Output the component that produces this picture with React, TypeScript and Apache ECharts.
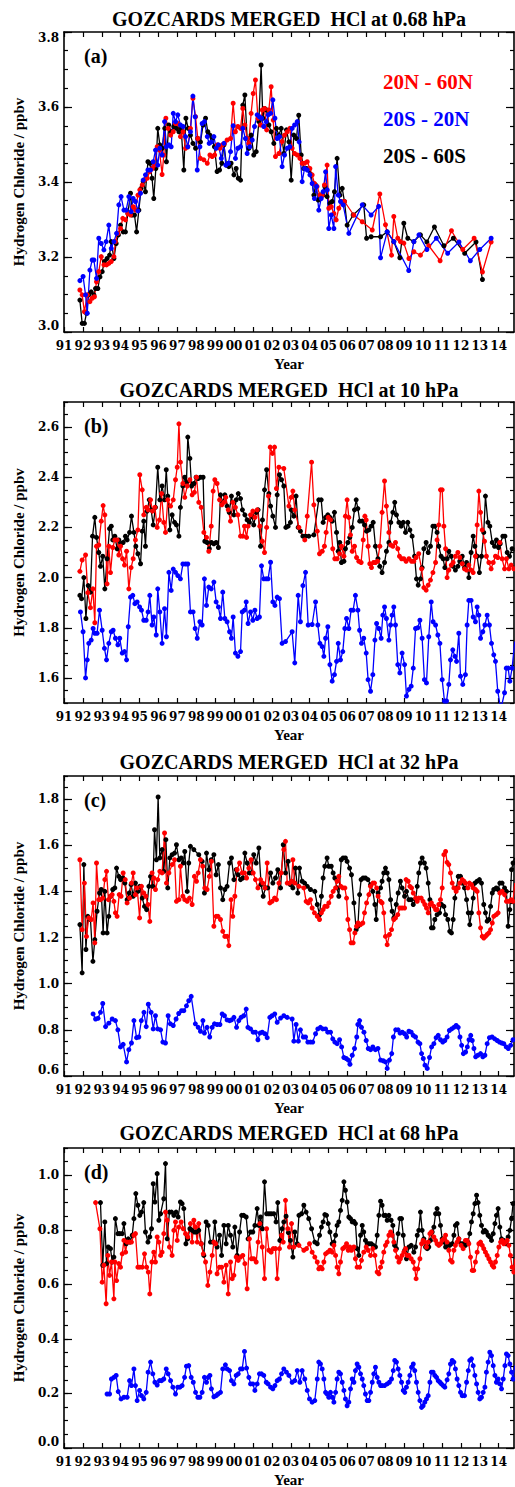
import React, { useEffect, useRef } from "react";
import * as echarts from "echarts";

type P = [number, number];

// ---------------- text / categories ----------------
const yearTicks = [1991, 1992, 1993, 1994, 1995, 1996, 1997, 1998, 1999, 2000, 2001, 2002, 2003, 2004, 2005, 2006, 2007, 2008, 2009, 2010, 2011, 2012, 2013, 2014];
const yearLabels = ["91", "92", "93", "94", "95", "96", "97", "98", "99", "00", "01", "02", "03", "04", "05", "06", "07", "08", "09", "10", "11", "12", "13", "14"];
const titles = [
  "GOZCARDS MERGED  HCl at 0.68 hPa",
  "GOZCARDS MERGED  HCl at 10 hPa",
  "GOZCARDS MERGED  HCl at 32 hPa",
  "GOZCARDS MERGED  HCl at 68 hPa",
];
const panelTags = ["(a)", "(b)", "(c)", "(d)"];
const seriesNames = ["20N - 60N", "20S - 20N", "20S - 60S"];
const yAxisTitle = "Hydrogen Chloride / ppbv";
const xAxisTitle = "Year";
const yMin = [3.0, 1.5, 0.6, 0.0];
const yMax = [3.8, 2.7, 1.9, 1.1];
const yLabelVals = [
  [3.0, 3.2, 3.4, 3.6, 3.8],
  [1.6, 1.8, 2.0, 2.2, 2.4, 2.6],
  [0.6, 0.8, 1.0, 1.2, 1.4, 1.6, 1.8],
  [0.0, 0.2, 0.4, 0.6, 0.8, 1.0],
];
const X_MIN = 1991;
const X_MAX = 2014.81;

// ---------------- data: panel (a) 0.68 hPa ----------------
const a20N60N: P[] = [[1991.84,3.112],[1991.96,3.099],[1992.08,3.054],[1992.23,3.099],[1992.37,3.081],[1992.49,3.090],[1992.61,3.094],[1992.72,3.134],[1992.84,3.161],[1992.97,3.201],[1993.11,3.179],[1993.25,3.179],[1993.37,3.183],[1993.50,3.188],[1993.64,3.201],[1993.72,3.241],[1993.85,3.263],[1993.99,3.276],[1994.11,3.303],[1994.25,3.299],[1994.38,3.316],[1994.52,3.312],[1994.66,3.334],[1994.78,3.325],[1994.91,3.365],[1995.01,3.379],[1995.14,3.392],[1995.26,3.405],[1995.40,3.410],[1995.54,3.428],[1995.67,3.436],[1995.79,3.445],[1995.93,3.494],[1996.05,3.485],[1996.19,3.420],[1996.28,3.472],[1996.39,3.570],[1996.51,3.543],[1996.64,3.525],[1996.78,3.534],[1996.90,3.556],[1997.02,3.556],[1997.16,3.521],[1997.30,3.534],[1997.43,3.490],[1997.55,3.494],[1997.69,3.543],[1997.82,3.623],[1997.96,3.574],[1998.08,3.516],[1998.22,3.463],[1998.40,3.459],[1998.58,3.450],[1998.72,3.472],[1998.84,3.468],[1998.97,3.472],[1999.11,3.499],[1999.25,3.490],[1999.37,3.499],[1999.49,3.503],[1999.63,3.512],[1999.81,3.516],[1999.95,3.610],[2000.07,3.534],[2000.20,3.548],[2000.34,3.543],[2000.46,3.596],[2000.57,3.552],[2000.69,3.516],[2000.78,3.503],[2000.90,3.583],[2001.01,3.636],[2001.13,3.672],[2001.26,3.570],[2001.40,3.552],[2001.49,3.592],[2001.61,3.596],[2001.72,3.539],[2001.84,3.592],[2001.96,3.654],[2002.07,3.565],[2002.19,3.468],[2002.37,3.476],[2002.54,3.508],[2002.67,3.525],[2002.81,3.534],[2002.95,3.543],[2003.07,3.490],[2003.20,3.476],[2003.34,3.472],[2003.48,3.463],[2003.60,3.450],[2003.73,3.450],[2003.87,3.454],[2004.01,3.436],[2004.13,3.419],[2004.25,3.396],[2004.39,3.388],[2004.54,3.365],[2004.66,3.365],[2004.78,3.392],[2004.92,3.445],[2005.01,3.330],[2005.14,3.334],[2005.28,3.316],[2005.40,3.299],[2005.54,3.330],[2005.68,3.348],[2005.84,3.348],[2006.33,3.312],[2006.78,3.294],[2007.31,3.272],[2007.71,3.368],[2008.01,3.286],[2008.33,3.205],[2008.45,3.308],[2008.66,3.250],[2008.80,3.241],[2008.98,3.237],[2009.25,3.196],[2009.51,3.214],[2009.86,3.205],[2010.30,3.230],[2010.90,3.190],[2011.50,3.270],[2012.10,3.220],[2012.70,3.250],[2013.14,3.160],[2013.60,3.240]];
const a20S20N: P[] = [[1991.84,3.137],[1992.01,3.148],[1992.14,3.099],[1992.23,3.050],[1992.37,3.165],[1992.49,3.192],[1992.58,3.192],[1992.72,3.143],[1992.84,3.250],[1992.97,3.236],[1993.11,3.219],[1993.23,3.241],[1993.37,3.285],[1993.50,3.223],[1993.64,3.241],[1993.78,3.263],[1993.90,3.339],[1994.02,3.361],[1994.17,3.325],[1994.29,3.325],[1994.43,3.361],[1994.55,3.321],[1994.66,3.356],[1994.78,3.348],[1994.91,3.323],[1995.05,3.370],[1995.19,3.405],[1995.31,3.419],[1995.44,3.432],[1995.58,3.432],[1995.72,3.454],[1995.84,3.485],[1995.96,3.445],[1996.07,3.490],[1996.19,3.472],[1996.32,3.561],[1996.42,3.494],[1996.55,3.499],[1996.67,3.494],[1996.78,3.583],[1996.90,3.561],[1997.02,3.579],[1997.16,3.552],[1997.30,3.548],[1997.43,3.521],[1997.55,3.494],[1997.69,3.534],[1997.82,3.629],[1997.94,3.574],[1998.05,3.432],[1998.19,3.494],[1998.31,3.556],[1998.43,3.561],[1998.58,3.521],[1998.68,3.503],[1998.80,3.507],[1998.93,3.521],[1999.05,3.490],[1999.17,3.499],[1999.32,3.463],[1999.46,3.503],[1999.56,3.445],[1999.70,3.450],[1999.81,3.481],[1999.95,3.550],[2000.07,3.463],[2000.20,3.490],[2000.34,3.494],[2000.46,3.543],[2000.60,3.516],[2000.69,3.476],[2000.83,3.494],[2000.96,3.512],[2001.08,3.548],[2001.22,3.579],[2001.34,3.574],[2001.45,3.570],[2001.57,3.548],[2001.70,3.561],[2001.80,3.579],[2001.93,3.583],[2002.05,3.619],[2002.16,3.570],[2002.28,3.516],[2002.40,3.521],[2002.54,3.441],[2002.67,3.472],[2002.81,3.490],[2002.95,3.494],[2003.07,3.543],[2003.20,3.552],[2003.34,3.561],[2003.44,3.507],[2003.60,3.401],[2003.73,3.436],[2003.87,3.432],[2004.01,3.419],[2004.13,3.396],[2004.25,3.356],[2004.36,3.388],[2004.48,3.325],[2004.61,3.356],[2004.71,3.374],[2004.84,3.427],[2004.93,3.379],[2005.01,3.276],[2005.14,3.312],[2005.28,3.276],[2005.37,3.441],[2005.51,3.365],[2005.63,3.348],[2005.77,3.339],[2006.07,3.263],[2006.78,3.339],[2007.25,3.312],[2007.65,3.335],[2007.75,3.198],[2008.10,3.267],[2008.45,3.241],[2009.24,3.164],[2009.51,3.241],[2009.78,3.259],[2010.20,3.220],[2010.70,3.250],[2011.30,3.210],[2011.90,3.240],[2012.50,3.190],[2013.00,3.220],[2013.60,3.250]];
const a20S60S: P[] = [[1991.84,3.085],[1991.96,3.023],[1992.08,3.023],[1992.19,3.050],[1992.31,3.099],[1992.44,3.107],[1992.58,3.099],[1992.67,3.116],[1992.79,3.116],[1992.90,3.147],[1993.02,3.161],[1993.14,3.188],[1993.28,3.196],[1993.41,3.205],[1993.50,3.241],[1993.64,3.196],[1993.76,3.236],[1993.88,3.259],[1993.99,3.285],[1994.13,3.267],[1994.25,3.267],[1994.38,3.316],[1994.52,3.370],[1994.61,3.312],[1994.73,3.312],[1994.84,3.267],[1994.96,3.325],[1995.08,3.383],[1995.19,3.401],[1995.31,3.374],[1995.44,3.454],[1995.54,3.450],[1995.66,3.410],[1995.75,3.356],[1995.86,3.436],[1995.96,3.543],[1996.07,3.499],[1996.19,3.490],[1996.33,3.543],[1996.42,3.454],[1996.54,3.552],[1996.67,3.534],[1996.81,3.548],[1996.95,3.543],[1997.08,3.534],[1997.20,3.543],[1997.34,3.432],[1997.45,3.570],[1997.57,3.543],[1997.69,3.525],[1997.82,3.503],[1997.96,3.490],[1998.08,3.516],[1998.22,3.507],[1998.36,3.552],[1998.49,3.570],[1998.61,3.534],[1998.72,3.525],[1998.84,3.516],[1998.96,3.494],[1999.10,3.428],[1999.23,3.432],[1999.35,3.450],[1999.46,3.499],[1999.60,3.445],[1999.72,3.441],[1999.84,3.450],[1999.99,3.419],[2000.11,3.436],[2000.22,3.410],[2000.34,3.405],[2000.46,3.605],[2000.57,3.632],[2000.69,3.516],[2000.78,3.490],[2000.90,3.525],[2001.04,3.472],[2001.17,3.481],[2001.31,3.561],[2001.43,3.712],[2001.52,3.570],[2001.61,3.596],[2001.72,3.592],[2001.84,3.552],[2001.96,3.534],[2002.10,3.503],[2002.24,3.543],[2002.37,3.525],[2002.49,3.543],[2002.63,3.476],[2002.77,3.539],[2002.90,3.507],[2003.02,3.405],[2003.16,3.525],[2003.30,3.516],[2003.42,3.578],[2003.55,3.472],[2003.69,3.436],[2003.83,3.436],[2003.95,3.432],[2004.08,3.419],[2004.22,3.365],[2004.31,3.392],[2004.45,3.352],[2004.57,3.365],[2004.70,3.365],[2004.80,3.388],[2004.92,3.361],[2005.07,3.343],[2005.19,3.348],[2005.31,3.374],[2005.45,3.463],[2005.60,3.365],[2005.72,3.383],[2005.84,3.348],[2005.98,3.285],[2006.30,3.312],[2006.86,3.339],[2007.01,3.250],[2007.25,3.254],[2007.75,3.254],[2008.10,3.267],[2008.45,3.241],[2008.77,3.198],[2008.98,3.290],[2009.19,3.250],[2009.51,3.241],[2009.86,3.259],[2010.20,3.240],[2010.60,3.280],[2011.10,3.230],[2011.60,3.250],[2012.20,3.210],[2012.80,3.240],[2013.14,3.140]];

// ---------------- data: panel (b) 10 hPa ----------------
const b20N60N: P[] = [[1991.84,2.025],[1991.96,2.07],[1992.14,2.09],[1992.26,1.94],[1992.40,1.88],[1992.53,1.955],[1992.63,1.82],[1992.72,2.125],[1992.84,2.13],[1992.97,2.225],[1993.07,2.287],[1993.16,2.25],[1993.28,1.975],[1993.37,2.125],[1993.46,2.02],[1993.58,2.12],[1993.69,2.15],[1993.81,2.15],[1993.90,2.09],[1993.99,2.125],[1994.10,2.075],[1994.20,2.05],[1994.31,2.105],[1994.43,1.955],[1994.55,2.04],[1994.66,2.075],[1994.78,2.15],[1994.91,2.19],[1995.01,2.41],[1995.14,2.35],[1995.22,2.25],[1995.35,2.28],[1995.45,2.27],[1995.58,2.31],[1995.68,2.265],[1995.81,2.28],[1995.93,2.2],[1996.05,2.23],[1996.16,2.335],[1996.28,2.22],[1996.37,2.18],[1996.49,2.31],[1996.64,2.285],[1996.78,2.31],[1996.90,2.39],[1996.99,2.44],[1997.08,2.613],[1997.16,2.46],[1997.29,2.375],[1997.39,2.32],[1997.52,2.365],[1997.66,2.39],[1997.78,2.33],[1997.90,2.34],[1998.01,2.4],[1998.13,2.30],[1998.26,2.28],[1998.40,2.18],[1998.54,2.16],[1998.66,2.105],[1998.79,2.205],[1998.89,2.345],[1998.98,2.39],[1999.10,2.375],[1999.23,2.31],[1999.35,2.29],[1999.46,2.30],[1999.56,2.32],[1999.69,2.27],[1999.81,2.225],[1999.93,2.30],[2000.07,2.28],[2000.20,2.25],[2000.34,2.165],[2000.46,2.165],[2000.55,2.205],[2000.66,2.16],[2000.74,2.205],[2000.87,2.25],[2000.99,2.265],[2001.10,2.24],[2001.22,2.27],[2001.36,2.205],[2001.49,2.145],[2001.61,2.10],[2001.72,2.2],[2001.82,2.325],[2001.91,2.52],[2002.03,2.495],[2002.14,2.52],[2002.24,2.355],[2002.37,2.44],[2002.63,2.435],[2002.90,2.285],[2003.02,2.32],[2003.11,2.345],[2003.21,2.27],[2003.43,2.2],[2003.74,2.15],[2003.87,2.245],[2004.10,2.46],[2004.22,2.29],[2004.40,2.185],[2004.52,2.095],[2004.66,2.105],[2004.78,2.125],[2004.87,2.18],[2004.98,2.24],[2005.10,2.23],[2005.22,2.115],[2005.33,2.075],[2005.45,2.075],[2005.58,2.095],[2005.68,2.125],[2005.81,2.085],[2005.89,2.245],[2005.98,2.31],[2006.07,2.24],[2006.16,2.17],[2006.25,2.105],[2006.37,2.125],[2006.48,2.08],[2006.60,2.065],[2006.72,2.06],[2006.83,2.15],[2006.92,2.245],[2006.99,2.23],[2007.09,2.125],[2007.18,2.055],[2007.27,2.04],[2007.38,2.06],[2007.48,2.06],[2007.59,2.065],[2007.71,2.125],[2007.83,2.26],[2007.96,2.385],[2008.06,2.285],[2008.19,2.18],[2008.29,2.13],[2008.40,2.125],[2008.54,2.14],[2008.66,2.115],[2008.75,2.085],[2008.86,2.075],[2008.98,2.075],[2009.10,2.065],[2009.25,2.075],[2009.39,2.065],[2009.51,2.065],[2009.63,2.08],[2009.77,2.095],[2009.92,2.035],[2010.04,1.96],[2010.16,1.95],[2010.27,1.97],[2010.39,1.99],[2010.52,2.02],[2010.66,2.06],[2010.74,2.15],[2010.83,2.21],[2010.92,2.35],[2011.01,2.35],[2011.10,2.205],[2011.19,2.115],[2011.27,2.0],[2011.36,2.03],[2011.49,2.05],[2011.59,2.06],[2011.71,2.085],[2011.84,2.10],[2011.94,2.08],[2012.07,2.055],[2012.19,2.035],[2012.30,2.03],[2012.42,2.05],[2012.54,2.03],[2012.65,2.02],[2012.77,2.085],[2012.86,2.21],[2012.95,2.345],[2013.04,2.26],[2013.13,2.19],[2013.25,2.145],[2013.35,2.085],[2013.48,2.06],[2013.60,2.035],[2013.71,2.06],[2013.83,2.085],[2013.95,2.08],[2014.06,2.14],[2014.18,2.075],[2014.31,2.035],[2014.41,2.075],[2014.54,2.035],[2014.66,2.05],[2014.80,2.035]];
const b20S20N: P[] = [[1991.87,1.863],[1992.01,1.784],[1992.14,1.6],[1992.23,1.672],[1992.31,1.738],[1992.44,1.751],[1992.54,1.797],[1992.63,1.778],[1992.75,1.778],[1992.88,1.87],[1993.02,1.79],[1993.14,1.718],[1993.25,1.672],[1993.37,1.738],[1993.50,1.784],[1993.60,1.79],[1993.72,1.758],[1993.85,1.732],[1993.95,1.758],[1994.08,1.699],[1994.20,1.705],[1994.31,1.672],[1994.40,1.804],[1994.52,1.922],[1994.64,1.929],[1994.75,1.896],[1994.87,1.903],[1995.00,1.883],[1995.10,1.87],[1995.22,1.83],[1995.35,1.83],[1995.45,1.863],[1995.54,1.929],[1995.66,1.811],[1995.75,1.843],[1995.88,1.771],[1995.96,1.955],[1996.07,1.863],[1996.19,1.738],[1996.32,1.876],[1996.42,1.764],[1996.55,2.021],[1996.67,1.949],[1996.78,2.034],[1996.90,2.021],[1997.02,2.008],[1997.16,1.995],[1997.29,2.054],[1997.43,2.054],[1997.55,2.054],[1997.69,1.863],[1997.83,1.863],[1997.94,1.797],[1998.05,1.758],[1998.19,1.824],[1998.31,1.811],[1998.43,1.995],[1998.54,1.889],[1998.66,1.962],[1998.79,1.955],[1998.93,1.982],[1999.05,1.903],[1999.17,1.883],[1999.28,1.837],[1999.40,1.942],[1999.51,1.837],[1999.63,1.824],[1999.76,1.784],[1999.86,1.758],[1999.95,1.843],[2000.07,1.699],[2000.20,1.686],[2000.34,1.705],[2000.43,1.863],[2000.55,1.87],[2000.64,1.903],[2000.74,1.817],[2000.87,1.863],[2000.99,1.83],[2001.10,1.87],[2001.22,1.837],[2001.34,1.843],[2001.45,2.047],[2001.57,1.995],[2001.70,1.995],[2001.80,1.995],[2001.93,2.061],[2002.05,1.903],[2002.16,1.889],[2002.28,1.922],[2002.40,1.916],[2002.54,1.738],[2002.72,1.745],[2003.07,1.784],[2003.21,1.66],[2003.39,1.929],[2003.51,1.824],[2003.64,1.968],[2003.78,2.021],[2003.92,1.811],[2004.13,1.813],[2004.31,1.903],[2004.43,1.811],[2004.54,1.738],[2004.66,1.725],[2004.75,1.686],[2004.84,1.758],[2004.96,1.804],[2005.07,1.653],[2005.19,1.587],[2005.31,1.613],[2005.42,1.666],[2005.51,1.738],[2005.63,1.672],[2005.75,1.705],[2005.86,1.797],[2005.95,1.837],[2006.07,1.797],[2006.19,1.87],[2006.30,1.87],[2006.42,1.929],[2006.55,1.87],[2006.64,1.79],[2006.74,1.738],[2006.86,1.758],[2006.99,1.699],[2007.09,1.593],[2007.22,1.547],[2007.34,1.613],[2007.45,1.751],[2007.54,1.817],[2007.66,1.797],[2007.78,1.758],[2007.87,1.85],[2007.96,1.883],[2008.06,1.837],[2008.19,1.751],[2008.28,1.811],[2008.36,1.85],[2008.45,1.883],[2008.54,1.811],[2008.66,1.653],[2008.77,1.62],[2008.89,1.699],[2009.02,1.653],[2009.12,1.528],[2009.25,1.554],[2009.37,1.567],[2009.48,1.639],[2009.60,1.797],[2009.72,1.8],[2009.83,1.83],[2009.95,1.758],[2010.07,1.593],[2010.18,1.58],[2010.30,1.764],[2010.43,1.903],[2010.53,1.824],[2010.66,1.811],[2010.78,1.771],[2010.89,1.738],[2011.01,1.593],[2011.13,1.508],[2011.24,1.508],[2011.36,1.574],[2011.45,1.672],[2011.57,1.712],[2011.68,1.686],[2011.77,1.666],[2011.89,1.778],[2011.98,1.607],[2012.10,1.574],[2012.24,1.613],[2012.33,1.811],[2012.42,1.909],[2012.54,1.909],[2012.65,1.843],[2012.77,1.824],[2012.86,1.883],[2012.95,1.85],[2013.04,1.758],[2013.16,1.784],[2013.27,1.811],[2013.39,1.85],[2013.51,1.811],[2013.62,1.738],[2013.74,1.692],[2013.83,1.666],[2013.95,1.547],[2014.06,1.497],[2014.18,1.497],[2014.31,1.541],[2014.40,1.639],[2014.50,1.639],[2014.59,1.587],[2014.71,1.639],[2014.85,1.745]];
const b20S60S: P[] = [[1991.84,1.929],[1991.93,1.916],[1992.05,2.0],[1992.16,1.837],[1992.28,1.968],[1992.40,1.942],[1992.51,2.165],[1992.63,2.24],[1992.72,2.16],[1992.84,2.10],[1992.93,2.045],[1993.05,2.085],[1993.16,1.955],[1993.28,2.075],[1993.41,2.195],[1993.50,2.205],[1993.58,2.15],[1993.69,2.165],[1993.81,2.115],[1993.90,2.15],[1994.02,2.135],[1994.13,2.14],[1994.25,2.165],[1994.34,2.15],[1994.47,2.18],[1994.57,2.245],[1994.70,2.18],[1994.80,2.125],[1994.91,2.095],[1995.05,2.055],[1995.14,2.185],[1995.22,2.225],[1995.31,2.125],[1995.40,2.265],[1995.51,2.31],[1995.61,2.27],[1995.72,2.21],[1995.84,2.28],[1995.96,2.44],[1996.07,2.31],[1996.19,2.365],[1996.32,2.31],[1996.41,2.43],[1996.49,2.325],[1996.60,2.19],[1996.72,2.25],[1996.85,2.22],[1996.95,2.21],[1997.08,2.165],[1997.16,2.28],[1997.29,2.365],[1997.39,2.40],[1997.48,2.38],[1997.55,2.56],[1997.66,2.475],[1997.75,2.365],[1997.87,2.375],[1997.99,2.40],[1998.10,2.395],[1998.22,2.40],[1998.36,2.40],[1998.45,2.145],[1998.57,2.14],[1998.69,2.115],[1998.80,2.14],[1998.93,2.135],[1999.05,2.14],[1999.17,2.12],[1999.28,2.33],[1999.40,2.30],[1999.51,2.33],[1999.63,2.285],[1999.74,2.26],[1999.86,2.325],[1999.99,2.25],[2000.11,2.31],[2000.22,2.335],[2000.34,2.315],[2000.44,2.27],[2000.57,2.25],[2000.69,2.23],[2000.81,2.22],[2000.94,2.245],[2001.04,2.21],[2001.17,2.26],[2001.27,2.27],[2001.40,2.125],[2001.50,2.23],[2001.61,2.35],[2001.72,2.43],[2001.84,2.335],[2001.93,2.285],[2002.05,2.245],[2002.19,2.20],[2002.28,2.33],[2002.40,2.41],[2002.51,2.39],[2002.63,2.365],[2002.74,2.20],[2002.86,2.205],[2002.98,2.22],[2003.02,2.27],[2003.16,2.245],[2003.28,2.325],[2003.39,2.2],[2003.51,2.185],[2003.64,2.165],[2003.78,2.165],[2003.95,2.165],[2004.22,2.17],[2004.48,2.31],[2004.61,2.31],[2004.71,2.22],[2004.84,2.24],[2004.96,2.25],[2005.07,2.24],[2005.19,2.225],[2005.31,2.26],[2005.42,2.18],[2005.51,2.105],[2005.59,2.14],[2005.68,2.06],[2005.81,2.065],[2005.89,2.115],[2006.02,2.14],[2006.12,2.16],[2006.25,2.2],[2006.37,2.27],[2006.46,2.31],[2006.55,2.275],[2006.65,2.225],[2006.78,2.225],[2006.90,2.21],[2007.01,2.185],[2007.13,2.19],[2007.25,2.205],[2007.36,2.22],[2007.48,2.125],[2007.61,2.075],[2007.71,2.045],[2007.83,2.02],[2007.96,2.06],[2008.06,2.105],[2008.19,2.14],[2008.29,2.22],[2008.40,2.26],[2008.50,2.30],[2008.59,2.25],[2008.72,2.22],[2008.84,2.205],[2008.95,2.22],[2009.07,2.18],[2009.19,2.22],[2009.30,2.19],[2009.42,2.165],[2009.55,2.085],[2009.65,1.995],[2009.74,1.97],[2009.86,1.995],[2009.95,2.04],[2010.04,2.115],[2010.16,2.14],[2010.27,2.10],[2010.39,2.125],[2010.52,2.205],[2010.62,2.205],[2010.74,2.18],[2010.83,2.125],[2010.95,2.085],[2011.06,2.075],[2011.15,2.04],[2011.27,2.075],[2011.36,2.105],[2011.49,2.085],[2011.59,2.045],[2011.71,2.03],[2011.84,2.045],[2011.94,2.065],[2012.07,2.085],[2012.19,2.04],[2012.30,2.06],[2012.42,2.0],[2012.54,2.10],[2012.65,2.165],[2012.74,2.125],[2012.86,2.085],[2012.98,2.02],[2013.09,2.085],[2013.21,2.18],[2013.30,2.325],[2013.43,2.22],[2013.53,2.205],[2013.66,2.14],[2013.78,2.125],[2013.88,2.15],[2013.99,2.12],[2014.08,2.135],[2014.22,2.165],[2014.33,2.165],[2014.45,2.10],[2014.57,2.085],[2014.71,2.115],[2014.83,2.105]];

// ---------------- data: panel (c) 32 hPa ----------------
const c20N60N: P[] = [[1991.84,1.537],[1991.96,1.234],[1992.08,1.436],[1992.19,1.205],[1992.31,1.285],[1992.44,1.278],[1992.54,1.35],[1992.63,1.177],[1992.72,1.523],[1992.84,1.364],[1992.93,1.364],[1993.05,1.371],[1993.16,1.451],[1993.25,1.487],[1993.35,1.364],[1993.46,1.379],[1993.55,1.386],[1993.64,1.357],[1993.72,1.307],[1993.81,1.292],[1993.92,1.386],[1994.02,1.379],[1994.13,1.48],[1994.24,1.451],[1994.34,1.35],[1994.47,1.371],[1994.57,1.436],[1994.66,1.48],[1994.78,1.386],[1994.87,1.415],[1995.00,1.285],[1995.10,1.422],[1995.22,1.393],[1995.33,1.379],[1995.44,1.343],[1995.54,1.27],[1995.66,1.48],[1995.75,1.458],[1995.84,1.408],[1995.96,1.451],[1996.07,1.487],[1996.19,1.48],[1996.32,1.653],[1996.42,1.436],[1996.55,1.48],[1996.72,1.516],[1996.85,1.537],[1996.95,1.357],[1997.08,1.364],[1997.16,1.509],[1997.29,1.379],[1997.39,1.364],[1997.52,1.357],[1997.64,1.371],[1997.78,1.343],[1997.90,1.465],[1998.01,1.444],[1998.10,1.48],[1998.22,1.537],[1998.34,1.509],[1998.45,1.415],[1998.57,1.408],[1998.69,1.465],[1998.80,1.53],[1998.93,1.249],[1999.05,1.292],[1999.15,1.292],[1999.28,1.278],[1999.40,1.227],[1999.51,1.205],[1999.63,1.205],[1999.72,1.165],[1999.84,1.364],[1999.93,1.292],[2000.04,1.379],[2000.16,1.494],[2000.29,1.523],[2000.43,1.48],[2000.55,1.48],[2000.66,1.458],[2000.78,1.501],[2000.90,1.537],[2001.01,1.48],[2001.13,1.451],[2001.26,1.415],[2001.40,1.451],[2001.52,1.436],[2001.64,1.415],[2001.75,1.523],[2001.89,1.35],[2002.01,1.357],[2002.14,1.371],[2002.24,1.364],[2002.37,1.436],[2002.49,1.48],[2002.63,1.581],[2002.72,1.617],[2002.81,1.436],[2002.93,1.436],[2003.04,1.444],[2003.11,1.537],[2003.21,1.436],[2003.43,1.422],[2003.69,1.415],[2003.81,1.357],[2003.92,1.35],[2004.04,1.364],[2004.13,1.328],[2004.25,1.307],[2004.40,1.292],[2004.52,1.278],[2004.62,1.307],[2004.71,1.321],[2004.80,1.335],[2004.92,1.335],[2005.01,1.35],[2005.14,1.379],[2005.24,1.4],[2005.37,1.415],[2005.45,1.444],[2005.54,1.465],[2005.65,1.422],[2005.75,1.415],[2005.86,1.415],[2005.95,1.371],[2006.02,1.278],[2006.11,1.234],[2006.19,1.177],[2006.30,1.177],[2006.39,1.22],[2006.48,1.249],[2006.56,1.263],[2006.69,1.256],[2006.81,1.263],[2006.90,1.307],[2007.01,1.35],[2007.13,1.386],[2007.22,1.422],[2007.34,1.436],[2007.43,1.436],[2007.54,1.415],[2007.62,1.379],[2007.75,1.357],[2007.83,1.35],[2007.92,1.307],[2008.01,1.205],[2008.10,1.169],[2008.22,1.213],[2008.33,1.234],[2008.45,1.278],[2008.54,1.285],[2008.66,1.299],[2008.77,1.328],[2008.89,1.328],[2009.02,1.328],[2009.10,1.451],[2009.21,1.444],[2009.30,1.422],[2009.39,1.415],[2009.48,1.393],[2009.60,1.371],[2009.69,1.357],[2009.77,1.371],[2009.90,1.371],[2010.00,1.357],[2010.09,1.343],[2010.18,1.328],[2010.27,1.307],[2010.36,1.343],[2010.44,1.35],[2010.57,1.335],[2010.66,1.321],[2010.74,1.321],[2010.83,1.343],[2010.92,1.364],[2011.01,1.415],[2011.10,1.559],[2011.19,1.573],[2011.27,1.526],[2011.36,1.516],[2011.45,1.48],[2011.54,1.436],[2011.63,1.415],[2011.75,1.4],[2011.86,1.415],[2011.94,1.436],[2012.07,1.451],[2012.16,1.444],[2012.24,1.436],[2012.37,1.415],[2012.45,1.436],[2012.56,1.429],[2012.65,1.415],[2012.77,1.408],[2012.86,1.4],[2012.95,1.307],[2013.04,1.242],[2013.13,1.205],[2013.21,1.198],[2013.30,1.205],[2013.39,1.213],[2013.48,1.22],[2013.57,1.234],[2013.66,1.263],[2013.74,1.292],[2013.87,1.299],[2013.97,1.307],[2014.06,1.393],[2014.18,1.4],[2014.31,1.386],[2014.41,1.357],[2014.54,1.357],[2014.66,1.364],[2014.76,1.357],[2014.85,1.436]];
const c20S20N: P[] = [[1992.54,0.869],[1992.67,0.847],[1992.80,0.85],[1992.93,0.876],[1993.05,0.914],[1993.20,0.814],[1993.37,0.829],[1993.55,0.847],[1993.72,0.84],[1993.85,0.8],[1993.99,0.726],[1994.13,0.737],[1994.31,0.661],[1994.43,0.714],[1994.57,0.743],[1994.70,0.84],[1994.84,0.766],[1994.96,0.769],[1995.09,0.84],[1995.23,0.876],[1995.35,0.814],[1995.46,0.911],[1995.61,0.876],[1995.72,0.804],[1995.84,0.861],[1995.96,0.804],[1996.11,0.8],[1996.23,0.747],[1996.37,0.743],[1996.51,0.861],[1996.63,0.826],[1996.78,0.819],[1996.93,0.847],[1997.07,0.871],[1997.22,0.883],[1997.34,0.883],[1997.48,0.904],[1997.60,0.926],[1997.73,0.945],[1997.95,0.826],[1998.10,0.811],[1998.22,0.794],[1998.35,0.84],[1998.43,0.786],[1998.57,0.811],[1998.71,0.769],[1998.84,0.811],[1998.96,0.826],[1999.10,0.823],[1999.25,0.823],[1999.37,0.869],[1999.49,0.861],[1999.63,0.843],[1999.76,0.84],[1999.86,0.843],[1999.99,0.854],[2000.13,0.811],[2000.25,0.84],[2000.37,0.854],[2000.51,0.861],[2000.64,0.89],[2000.73,0.811],[2000.87,0.804],[2001.01,0.79],[2001.13,0.79],[2001.26,0.757],[2001.37,0.786],[2001.49,0.79],[2001.63,0.783],[2001.75,0.766],[2001.89,0.854],[2002.01,0.861],[2002.15,0.869],[2002.28,0.833],[2002.46,0.851],[2002.63,0.861],[2002.81,0.854],[2003.07,0.847],[2003.16,0.751],[2003.28,0.823],[2003.40,0.751],[2003.51,0.8],[2003.66,0.769],[2003.78,0.769],[2003.90,0.747],[2004.04,0.747],[2004.16,0.747],[2004.31,0.783],[2004.43,0.804],[2004.57,0.811],[2004.69,0.804],[2004.84,0.804],[2004.96,0.79],[2005.10,0.79],[2005.22,0.761],[2005.33,0.747],[2005.45,0.74],[2005.58,0.757],[2005.69,0.726],[2005.81,0.68],[2005.93,0.676],[2006.04,0.669],[2006.13,0.651],[2006.25,0.69],[2006.37,0.719],[2006.49,0.769],[2006.55,0.823],[2006.64,0.84],[2006.74,0.811],[2006.87,0.79],[2006.99,0.754],[2007.10,0.719],[2007.22,0.714],[2007.34,0.726],[2007.48,0.714],[2007.61,0.719],[2007.75,0.669],[2007.89,0.666],[2008.01,0.661],[2008.10,0.633],[2008.22,0.669],[2008.34,0.697],[2008.43,0.769],[2008.55,0.8],[2008.68,0.8],[2008.78,0.786],[2008.90,0.79],[2009.02,0.783],[2009.13,0.769],[2009.25,0.794],[2009.37,0.79],[2009.48,0.776],[2009.60,0.769],[2009.73,0.747],[2009.83,0.74],[2009.92,0.697],[2010.01,0.676],[2010.10,0.647],[2010.22,0.633],[2010.34,0.68],[2010.45,0.726],[2010.57,0.74],[2010.69,0.766],[2010.80,0.776],[2010.92,0.757],[2011.04,0.747],[2011.15,0.754],[2011.27,0.769],[2011.39,0.797],[2011.51,0.804],[2011.63,0.811],[2011.75,0.819],[2011.86,0.811],[2011.95,0.769],[2012.04,0.733],[2012.13,0.697],[2012.25,0.704],[2012.34,0.726],[2012.43,0.757],[2012.52,0.776],[2012.60,0.754],[2012.69,0.719],[2012.78,0.683],[2012.90,0.69],[2013.04,0.697],[2013.16,0.683],[2013.27,0.69],[2013.39,0.74],[2013.51,0.766],[2013.65,0.769],[2013.79,0.761],[2013.92,0.754],[2014.04,0.747],[2014.16,0.743],[2014.27,0.74],[2014.40,0.726],[2014.51,0.719],[2014.63,0.733],[2014.76,0.757]];
const c20S60S: P[] = [[1991.84,1.256],[1991.96,1.047],[1992.05,1.516],[1992.16,1.148],[1992.26,1.292],[1992.40,1.278],[1992.53,1.097],[1992.63,1.191],[1992.75,1.314],[1992.88,1.393],[1992.97,1.408],[1993.07,1.22],[1993.16,1.40],[1993.28,1.22],[1993.37,1.292],[1993.46,1.379],[1993.58,1.408],[1993.69,1.415],[1993.78,1.501],[1993.90,1.465],[1993.99,1.451],[1994.11,1.458],[1994.22,1.436],[1994.34,1.364],[1994.45,1.393],[1994.55,1.429],[1994.66,1.379],[1994.78,1.436],[1994.91,1.4],[1995.01,1.422],[1995.14,1.371],[1995.26,1.335],[1995.37,1.321],[1995.49,1.422],[1995.58,1.465],[1995.70,1.422],[1995.79,1.667],[1995.89,1.537],[1995.98,1.809],[1996.07,1.545],[1996.19,1.581],[1996.28,1.487],[1996.39,1.624],[1996.49,1.415],[1996.60,1.545],[1996.72,1.559],[1996.85,1.566],[1996.95,1.602],[1997.08,1.537],[1997.20,1.545],[1997.31,1.523],[1997.39,1.573],[1997.52,1.4],[1997.60,1.523],[1997.69,1.595],[1997.87,1.581],[1998.13,1.559],[1998.31,1.53],[1998.43,1.393],[1998.54,1.566],[1998.66,1.494],[1998.79,1.537],[1998.93,1.559],[1999.05,1.472],[1999.17,1.516],[1999.28,1.415],[1999.40,1.364],[1999.51,1.408],[1999.63,1.422],[1999.76,1.523],[1999.86,1.545],[1999.99,1.451],[2000.11,1.494],[2000.22,1.472],[2000.34,1.451],[2000.46,1.458],[2000.57,1.566],[2000.69,1.523],[2000.81,1.48],[2000.92,1.48],[2001.04,1.559],[2001.17,1.523],[2001.31,1.588],[2001.43,1.429],[2001.54,1.379],[2001.66,1.415],[2001.78,1.415],[2001.93,1.48],[2002.05,1.436],[2002.19,1.458],[2002.31,1.494],[2002.46,1.415],[2002.60,1.602],[2002.72,1.48],[2002.86,1.53],[2002.98,1.429],[2003.11,1.415],[2003.25,1.501],[2003.37,1.393],[2003.46,1.501],[2003.60,1.444],[2003.73,1.436],[2003.87,1.422],[2004.04,1.408],[2004.27,1.4],[2004.40,1.343],[2004.52,1.299],[2004.62,1.379],[2004.71,1.458],[2004.80,1.509],[2004.92,1.545],[2005.01,1.509],[2005.14,1.509],[2005.24,1.48],[2005.33,1.458],[2005.45,1.415],[2005.54,1.379],[2005.67,1.537],[2005.77,1.545],[2005.89,1.545],[2005.98,1.53],[2006.11,1.501],[2006.21,1.472],[2006.34,1.35],[2006.46,1.234],[2006.55,1.249],[2006.64,1.386],[2006.72,1.451],[2006.83,1.458],[2006.95,1.458],[2007.08,1.451],[2007.22,1.429],[2007.34,1.4],[2007.45,1.343],[2007.52,1.278],[2007.62,1.393],[2007.75,1.415],[2007.83,1.444],[2007.92,1.48],[2008.01,1.501],[2008.10,1.48],[2008.19,1.451],[2008.28,1.364],[2008.36,1.314],[2008.45,1.285],[2008.58,1.343],[2008.68,1.393],[2008.80,1.444],[2008.89,1.415],[2009.02,1.379],[2009.12,1.4],[2009.25,1.364],[2009.37,1.364],[2009.48,1.343],[2009.60,1.364],[2009.69,1.422],[2009.77,1.48],[2009.86,1.523],[2009.95,1.545],[2010.07,1.523],[2010.16,1.501],[2010.27,1.436],[2010.36,1.364],[2010.44,1.242],[2010.53,1.242],[2010.62,1.278],[2010.74,1.299],[2010.87,1.307],[2010.97,1.343],[2011.10,1.335],[2011.19,1.299],[2011.31,1.278],[2011.41,1.227],[2011.50,1.22],[2011.59,1.278],[2011.68,1.371],[2011.77,1.415],[2011.86,1.465],[2011.98,1.465],[2012.07,1.436],[2012.19,1.415],[2012.30,1.364],[2012.39,1.307],[2012.47,1.256],[2012.56,1.307],[2012.65,1.371],[2012.74,1.436],[2012.86,1.444],[2012.98,1.451],[2013.09,1.436],[2013.21,1.343],[2013.30,1.307],[2013.39,1.271],[2013.48,1.278],[2013.57,1.335],[2013.66,1.393],[2013.74,1.408],[2013.87,1.415],[2013.97,1.408],[2014.06,1.436],[2014.18,1.436],[2014.31,1.415],[2014.41,1.4],[2014.50,1.249],[2014.59,1.321],[2014.68,1.494],[2014.76,1.523],[2014.85,1.545]];

// ---------------- data: panel (d) 68 hPa ----------------
const d20N60N: P[] = [[1992.67,0.9],[1992.90,0.804],[1993.02,0.608],[1993.11,0.67],[1993.23,0.529],[1993.32,0.706],[1993.41,0.633],[1993.51,0.682],[1993.64,0.547],[1993.69,0.682],[1993.78,0.614],[1993.90,0.676],[1993.99,0.663],[1994.08,0.712],[1994.17,0.761],[1994.26,0.718],[1994.34,0.755],[1994.47,0.755],[1994.57,0.755],[1994.70,0.78],[1994.78,0.786],[1994.91,0.663],[1995.01,0.663],[1995.14,0.663],[1995.26,0.712],[1995.37,0.663],[1995.46,0.645],[1995.54,0.565],[1995.65,0.682],[1995.75,0.718],[1995.84,0.682],[1995.93,0.774],[1996.02,0.755],[1996.11,0.706],[1996.19,0.718],[1996.28,0.786],[1996.37,0.865],[1996.46,0.835],[1996.58,0.737],[1996.72,0.706],[1996.81,0.798],[1996.90,0.829],[1996.99,0.761],[1997.08,0.81],[1997.20,0.829],[1997.31,0.804],[1997.43,0.786],[1997.55,0.774],[1997.69,0.823],[1997.78,0.755],[1997.87,0.835],[1997.96,0.81],[1998.05,0.755],[1998.13,0.823],[1998.26,0.749],[1998.37,0.712],[1998.49,0.682],[1998.61,0.596],[1998.72,0.645],[1998.84,0.706],[1998.93,0.755],[1999.02,0.749],[1999.10,0.639],[1999.23,0.663],[1999.34,0.663],[1999.46,0.608],[1999.58,0.67],[1999.69,0.565],[1999.81,0.682],[1999.90,0.621],[1999.99,0.633],[2000.11,0.7],[2000.22,0.688],[2000.34,0.7],[2000.46,0.706],[2000.57,0.676],[2000.69,0.584],[2000.81,0.767],[2000.92,0.694],[2001.04,0.694],[2001.17,0.682],[2001.27,0.755],[2001.36,0.823],[2001.49,0.737],[2001.61,0.621],[2001.72,0.804],[2001.84,0.725],[2001.96,0.718],[2002.07,0.731],[2002.19,0.731],[2002.28,0.621],[2002.40,0.731],[2002.51,0.78],[2002.60,0.755],[2002.72,0.908],[2002.84,0.804],[2002.93,0.737],[2003.04,0.823],[2003.16,0.737],[2003.43,0.743],[2003.69,0.725],[2003.83,0.731],[2003.99,0.749],[2004.13,0.718],[2004.27,0.7],[2004.40,0.682],[2004.48,0.657],[2004.57,0.663],[2004.66,0.657],[2004.75,0.682],[2004.84,0.712],[2004.96,0.718],[2005.07,0.725],[2005.19,0.718],[2005.28,0.743],[2005.37,0.706],[2005.45,0.663],[2005.54,0.639],[2005.63,0.682],[2005.75,0.731],[2005.86,0.737],[2005.95,0.749],[2006.04,0.725],[2006.12,0.737],[2006.21,0.725],[2006.34,0.737],[2006.42,0.694],[2006.51,0.663],[2006.64,0.663],[2006.74,0.688],[2006.86,0.718],[2006.99,0.737],[2007.09,0.725],[2007.22,0.706],[2007.34,0.731],[2007.45,0.706],[2007.57,0.645],[2007.66,0.639],[2007.75,0.663],[2007.83,0.682],[2007.92,0.718],[2008.01,0.743],[2008.10,0.755],[2008.19,0.78],[2008.28,0.792],[2008.36,0.78],[2008.45,0.755],[2008.54,0.725],[2008.63,0.7],[2008.72,0.682],[2008.80,0.694],[2008.89,0.706],[2008.98,0.718],[2009.07,0.731],[2009.16,0.706],[2009.25,0.706],[2009.37,0.694],[2009.48,0.682],[2009.56,0.657],[2009.63,0.621],[2009.72,0.657],[2009.83,0.694],[2009.92,0.749],[2010.00,0.761],[2010.09,0.755],[2010.18,0.737],[2010.27,0.755],[2010.36,0.786],[2010.44,0.792],[2010.57,0.774],[2010.66,0.761],[2010.74,0.749],[2010.83,0.743],[2010.92,0.749],[2011.01,0.761],[2011.10,0.767],[2011.19,0.78],[2011.27,0.755],[2011.36,0.725],[2011.45,0.688],[2011.54,0.682],[2011.63,0.725],[2011.71,0.743],[2011.80,0.755],[2011.89,0.767],[2012.01,0.743],[2012.12,0.731],[2012.24,0.761],[2012.33,0.761],[2012.42,0.749],[2012.51,0.7],[2012.60,0.651],[2012.68,0.651],[2012.77,0.682],[2012.86,0.718],[2012.95,0.749],[2013.04,0.755],[2013.13,0.743],[2013.21,0.731],[2013.30,0.718],[2013.39,0.706],[2013.48,0.694],[2013.57,0.682],[2013.66,0.67],[2013.74,0.663],[2013.83,0.682],[2013.92,0.706],[2014.01,0.737],[2014.10,0.755],[2014.18,0.761],[2014.27,0.749],[2014.36,0.755],[2014.45,0.761],[2014.54,0.743],[2014.62,0.706],[2014.71,0.663],[2014.80,0.645],[2014.85,0.694]];
const d20S20N: P[] = [[1993.28,0.198],[1993.41,0.198],[1993.51,0.253],[1993.64,0.259],[1993.76,0.266],[1993.87,0.207],[1994.02,0.18],[1994.17,0.186],[1994.34,0.186],[1994.47,0.247],[1994.57,0.229],[1994.70,0.29],[1994.78,0.229],[1994.87,0.174],[1995.00,0.211],[1995.10,0.192],[1995.22,0.18],[1995.35,0.204],[1995.45,0.278],[1995.58,0.315],[1995.70,0.272],[1995.81,0.241],[1995.93,0.231],[1996.05,0.247],[1996.16,0.247],[1996.28,0.253],[1996.41,0.29],[1996.51,0.272],[1996.64,0.247],[1996.76,0.223],[1996.90,0.198],[1997.02,0.223],[1997.13,0.223],[1997.25,0.229],[1997.38,0.259],[1997.48,0.3],[1997.60,0.302],[1997.73,0.259],[1997.84,0.241],[1997.96,0.204],[1998.08,0.186],[1998.19,0.186],[1998.31,0.204],[1998.43,0.259],[1998.54,0.241],[1998.63,0.259],[1998.72,0.266],[1998.80,0.217],[1998.93,0.188],[1999.05,0.192],[1999.15,0.198],[1999.28,0.204],[1999.40,0.29],[1999.54,0.305],[1999.63,0.29],[1999.76,0.284],[1999.86,0.247],[1999.99,0.235],[2000.11,0.266],[2000.22,0.272],[2000.34,0.29],[2000.43,0.29],[2000.55,0.354],[2000.66,0.293],[2000.78,0.259],[2000.87,0.235],[2000.99,0.235],[2001.10,0.211],[2001.22,0.235],[2001.34,0.272],[2001.45,0.272],[2001.57,0.266],[2001.70,0.241],[2001.80,0.235],[2001.93,0.223],[2002.05,0.217],[2002.16,0.229],[2002.28,0.247],[2002.40,0.253],[2002.51,0.272],[2002.63,0.29],[2002.77,0.278],[2002.90,0.266],[2003.07,0.241],[2003.21,0.247],[2003.34,0.284],[2003.48,0.241],[2003.60,0.284],[2003.74,0.253],[2003.87,0.211],[2003.99,0.18],[2004.13,0.168],[2004.27,0.174],[2004.40,0.253],[2004.48,0.315],[2004.57,0.308],[2004.66,0.29],[2004.75,0.253],[2004.84,0.204],[2004.92,0.198],[2005.01,0.186],[2005.10,0.204],[2005.19,0.186],[2005.28,0.168],[2005.37,0.204],[2005.45,0.253],[2005.54,0.278],[2005.63,0.272],[2005.72,0.241],[2005.81,0.211],[2005.89,0.18],[2005.98,0.155],[2006.07,0.168],[2006.16,0.217],[2006.25,0.253],[2006.34,0.241],[2006.42,0.284],[2006.51,0.308],[2006.60,0.296],[2006.69,0.272],[2006.78,0.253],[2006.86,0.229],[2006.95,0.198],[2007.04,0.174],[2007.13,0.174],[2007.22,0.204],[2007.31,0.241],[2007.39,0.272],[2007.48,0.296],[2007.57,0.259],[2007.66,0.241],[2007.75,0.229],[2007.83,0.229],[2007.96,0.229],[2008.10,0.235],[2008.22,0.241],[2008.33,0.253],[2008.42,0.284],[2008.50,0.321],[2008.59,0.315],[2008.68,0.29],[2008.77,0.266],[2008.86,0.241],[2008.95,0.211],[2009.03,0.204],[2009.12,0.223],[2009.21,0.241],[2009.30,0.266],[2009.39,0.296],[2009.48,0.308],[2009.56,0.284],[2009.65,0.241],[2009.74,0.204],[2009.83,0.174],[2009.92,0.149],[2010.00,0.155],[2010.09,0.168],[2010.18,0.18],[2010.27,0.192],[2010.36,0.241],[2010.44,0.278],[2010.53,0.278],[2010.62,0.266],[2010.71,0.259],[2010.80,0.247],[2010.89,0.241],[2010.97,0.235],[2011.06,0.229],[2011.15,0.223],[2011.27,0.25],[2011.36,0.272],[2011.45,0.308],[2011.54,0.321],[2011.63,0.315],[2011.71,0.29],[2011.80,0.253],[2011.89,0.229],[2011.98,0.204],[2012.07,0.192],[2012.19,0.192],[2012.30,0.241],[2012.39,0.284],[2012.47,0.321],[2012.56,0.327],[2012.65,0.302],[2012.74,0.266],[2012.83,0.235],[2012.91,0.204],[2013.00,0.18],[2013.09,0.186],[2013.18,0.204],[2013.27,0.223],[2013.35,0.278],[2013.44,0.315],[2013.53,0.351],[2013.62,0.339],[2013.71,0.302],[2013.80,0.266],[2013.88,0.241],[2013.97,0.253],[2014.06,0.235],[2014.15,0.217],[2014.24,0.253],[2014.33,0.302],[2014.41,0.345],[2014.50,0.339],[2014.59,0.308],[2014.68,0.278],[2014.76,0.253],[2014.85,0.302]];
const d20S60S: P[] = [[1992.93,0.9],[1993.05,0.67],[1993.16,0.829],[1993.25,0.676],[1993.34,0.737],[1993.46,0.731],[1993.55,0.682],[1993.64,0.7],[1993.72,0.841],[1993.85,0.786],[1993.95,0.786],[1994.08,0.786],[1994.17,0.823],[1994.29,0.749],[1994.40,0.767],[1994.49,0.755],[1994.61,0.78],[1994.70,0.841],[1994.80,0.933],[1994.91,0.89],[1995.01,0.853],[1995.10,0.865],[1995.22,0.9],[1995.31,0.792],[1995.44,0.755],[1995.54,0.774],[1995.63,0.804],[1995.72,0.969],[1995.81,0.902],[1995.93,1.006],[1996.02,0.835],[1996.11,0.859],[1996.28,0.914],[1996.37,1.043],[1996.46,0.767],[1996.58,0.865],[1996.69,0.865],[1996.81,0.853],[1996.93,0.865],[1997.04,0.847],[1997.16,0.902],[1997.25,0.896],[1997.34,0.878],[1997.45,0.749],[1997.55,0.767],[1997.66,0.804],[1997.78,0.798],[1997.90,0.792],[1998.01,0.792],[1998.13,0.798],[1998.26,0.749],[1998.40,0.706],[1998.52,0.829],[1998.63,0.816],[1998.75,0.755],[1998.88,0.755],[1998.98,0.829],[1999.10,0.737],[1999.23,0.78],[1999.34,0.706],[1999.46,0.816],[1999.58,0.749],[1999.69,0.816],[1999.81,0.78],[1999.93,0.737],[2000.04,0.81],[2000.16,0.706],[2000.29,0.792],[2000.40,0.853],[2000.51,0.853],[2000.64,0.847],[2000.74,0.767],[2000.87,0.792],[2000.99,0.792],[2001.10,0.816],[2001.22,0.878],[2001.31,0.816],[2001.40,0.847],[2001.50,0.804],[2001.61,0.976],[2001.72,0.859],[2001.84,0.859],[2001.96,0.859],[2002.10,0.859],[2002.22,0.829],[2002.31,0.9],[2002.42,0.761],[2002.54,0.804],[2002.63,0.829],[2002.75,0.85],[2002.87,0.79],[2002.98,0.761],[2003.11,0.7],[2003.21,0.792],[2003.34,0.749],[2003.43,0.853],[2003.57,0.859],[2003.69,0.89],[2003.81,0.865],[2003.95,0.841],[2004.10,0.804],[2004.27,0.755],[2004.40,0.749],[2004.52,0.78],[2004.62,0.81],[2004.71,0.829],[2004.80,0.856],[2004.89,0.853],[2004.98,0.823],[2005.07,0.792],[2005.19,0.749],[2005.28,0.755],[2005.37,0.78],[2005.45,0.816],[2005.54,0.829],[2005.63,0.871],[2005.72,0.908],[2005.81,0.976],[2005.89,0.945],[2005.98,0.902],[2006.07,0.847],[2006.16,0.841],[2006.25,0.829],[2006.34,0.831],[2006.42,0.823],[2006.51,0.731],[2006.60,0.706],[2006.69,0.78],[2006.78,0.816],[2006.86,0.792],[2006.95,0.761],[2007.04,0.749],[2007.13,0.749],[2007.25,0.749],[2007.36,0.743],[2007.48,0.737],[2007.57,0.78],[2007.66,0.853],[2007.75,0.905],[2007.83,0.89],[2007.92,0.853],[2008.01,0.853],[2008.10,0.835],[2008.19,0.853],[2008.31,0.835],[2008.40,0.816],[2008.49,0.743],[2008.59,0.731],[2008.68,0.786],[2008.77,0.841],[2008.86,0.841],[2008.95,0.78],[2009.03,0.725],[2009.12,0.694],[2009.25,0.737],[2009.37,0.743],[2009.51,0.718],[2009.60,0.737],[2009.69,0.78],[2009.77,0.798],[2009.86,0.865],[2009.95,0.798],[2010.04,0.767],[2010.13,0.737],[2010.22,0.731],[2010.30,0.737],[2010.39,0.761],[2010.48,0.792],[2010.57,0.81],[2010.66,0.859],[2010.74,0.878],[2010.83,0.859],[2010.92,0.816],[2011.01,0.767],[2011.10,0.755],[2011.19,0.737],[2011.31,0.749],[2011.41,0.743],[2011.54,0.749],[2011.63,0.78],[2011.71,0.816],[2011.80,0.823],[2011.89,0.767],[2012.01,0.749],[2012.12,0.749],[2012.24,0.743],[2012.37,0.755],[2012.47,0.786],[2012.56,0.829],[2012.65,0.859],[2012.74,0.896],[2012.83,0.927],[2012.91,0.9],[2013.00,0.853],[2013.09,0.816],[2013.18,0.792],[2013.27,0.798],[2013.35,0.792],[2013.44,0.78],[2013.53,0.774],[2013.62,0.761],[2013.71,0.786],[2013.80,0.823],[2013.88,0.853],[2013.97,0.878],[2014.06,0.81],[2014.15,0.767],[2014.27,0.761],[2014.40,0.749],[2014.50,0.774],[2014.59,0.798],[2014.68,0.841],[2014.76,0.896],[2014.85,0.905]];

const panelSeries: P[][][] = [
  [a20S60S, a20N60N, a20S20N],
  [b20S60S, b20N60N, b20S20N],
  [c20S60S, c20N60N, c20S20N],
  [d20S60S, d20N60N, d20S20N],
];

// ---------------- layout / style ----------------
const COLORS = { n: "#ff0000", eq: "#0000ff", s: "#000000" };
const GRID_LEFT = 64;
const GRID_W = 450;
const gridTops = [32, 402, 776, 1148];
const gridHs = [300, 301, 300, 300];
const titleYs = [18.5, 390.3, 761.7, 1133.3];
const edgeAlign = [[true, true], [false, false], [true, false], [true, false]];
const SERIF = "'Liberation Serif', 'Times New Roman', serif";
const TICKFONT = "'DejaVu Serif', serif";

function minorVals(lo: number, hi: number): number[] {
  const out: number[] = [];
  const n = Math.round((hi - lo) / 0.05);
  for (let k = 0; k <= n; k++) out.push(Math.round((lo + k * 0.05) * 1000) / 1000);
  return out;
}

function buildOption() {
  const grid: any[] = [];
  const xAxis: any[] = [];
  const yAxis: any[] = [];
  const series: any[] = [];
  const graphic: any[] = [];
  const axisLineStyle = { color: "#000", width: 1.6 };
  const tickLineStyle = { color: "#000", width: 1.2 };

  gridTops.forEach((top, i) => {
    grid.push({ left: GRID_LEFT, top, width: GRID_W, height: gridHs[i], outerBoundsMode: "none", containLabel: false });
    const baseX = {
      type: "value", gridIndex: i, min: X_MIN, max: X_MAX, splitLine: { show: false },
      axisLine: { show: true, onZero: false, lineStyle: axisLineStyle },
      axisTick: { show: true, inside: true, length: 5, customValues: yearTicks, lineStyle: tickLineStyle },
    };
    xAxis.push({
      ...baseX, position: "bottom",
      axisLabel: {
        show: true, customValues: yearTicks, margin: 8,
        formatter: (v: number) => { const k = yearTicks.indexOf(Math.round(v)); return k >= 0 ? yearLabels[k] : ""; },
        fontFamily: TICKFONT, fontWeight: "bold", fontSize: 12, color: "#000",
      },
    });
    xAxis.push({ ...baseX, position: "top", axisLabel: { show: false } });

    const majors = yLabelVals[i];
    const minors = minorVals(yMin[i], yMax[i]);
    const baseY = { type: "value", gridIndex: i, min: yMin[i], max: yMax[i], splitLine: { show: false } };
    const leftLabel: any = {
      show: true, customValues: majors, margin: 5,
      formatter: (v: number) => v.toFixed(1),
      fontFamily: TICKFONT, fontWeight: "bold", fontSize: 12, color: "#000",
    };
    if (edgeAlign[i][0]) leftLabel.verticalAlignMinLabel = "bottom";
    if (edgeAlign[i][1]) leftLabel.verticalAlignMaxLabel = "top";
    yAxis.push({
      ...baseY, position: "left",
      axisLine: { show: true, onZero: false, lineStyle: axisLineStyle },
      axisTick: { show: true, inside: true, length: 8, customValues: majors, lineStyle: tickLineStyle },
      axisLabel: leftLabel,
    });
    yAxis.push({
      ...baseY, position: "left",
      axisLine: { show: false },
      axisTick: { show: true, inside: true, length: 4, customValues: minors, lineStyle: tickLineStyle },
      axisLabel: { show: false },
    });
    yAxis.push({
      ...baseY, position: "right",
      axisLine: { show: true, onZero: false, lineStyle: axisLineStyle },
      axisTick: { show: true, inside: true, length: 8, customValues: majors, lineStyle: tickLineStyle },
      axisLabel: { show: false },
    });
    yAxis.push({
      ...baseY, position: "right",
      axisLine: { show: false },
      axisTick: { show: true, inside: true, length: 4, customValues: minors, lineStyle: tickLineStyle },
      axisLabel: { show: false },
    });

    const [sData, nData, eqData] = panelSeries[i];
    const mk = (data: P[], color: string, name: string) => ({
      type: "line", name, data, xAxisIndex: 2 * i, yAxisIndex: 4 * i,
      symbol: "circle", symbolSize: 5, showSymbol: true, showAllSymbol: true,
      lineStyle: { color, width: 1.3 }, itemStyle: { color },
      clip: true, silent: true, emphasis: { disabled: true }, animation: false,
    });
    series.push(mk(sData, COLORS.s, seriesNames[2]));
    series.push(mk(nData, COLORS.n, seriesNames[0]));
    series.push(mk(eqData, COLORS.eq, seriesNames[1]));

    const txt = (text: string, x: number, y: number, size: number, color: string, align: string, rotation = 0) => ({
      type: "text", x, y, rotation, silent: true,
      style: {
        text, fill: color, fontFamily: SERIF, fontWeight: "bold", fontSize: size,
        align, verticalAlign: "middle", textAlign: align, textVerticalAlign: "middle",
      },
    });
    const cx = GRID_LEFT + GRID_W / 2;
    graphic.push(txt(titles[i], cx, titleYs[i], 20, "#000", "center"));
    graphic.push(txt(panelTags[i], 84, top + 23.5, 20, "#000", "left"));
    graphic.push(txt(yAxisTitle, 19, top + gridHs[i] / 2, 15, "#000", "center", Math.PI / 2));
    graphic.push(txt(xAxisTitle, cx, top + gridHs[i] + 31.5, 15, "#000", "center"));
    if (i === 0) {
      graphic.push(txt(seriesNames[0], 383, 81.7, 21, COLORS.n, "left"));
      graphic.push(txt(seriesNames[1], 383, 118.7, 21, COLORS.eq, "left"));
      graphic.push(txt(seriesNames[2], 383, 156.3, 21, COLORS.s, "left"));
    }
  });

  return {
    animation: false,
    backgroundColor: "#ffffff",
    grid, xAxis, yAxis, series, graphic,
    tooltip: { show: false },
  };
}

export default function App() {
  const ref = useRef<HTMLDivElement | null>(null);
  useEffect(() => {
    if (!ref.current) return;
    const chart = echarts.init(ref.current, undefined, { renderer: "svg" });
    chart.setOption(buildOption() as any);
    return () => chart.dispose();
  }, []);
  return (
    <div
      ref={ref}
      style={{ position: "absolute", left: 0, top: 0, width: 515, height: 1487, background: "#fff" }}
    />
  );
}
